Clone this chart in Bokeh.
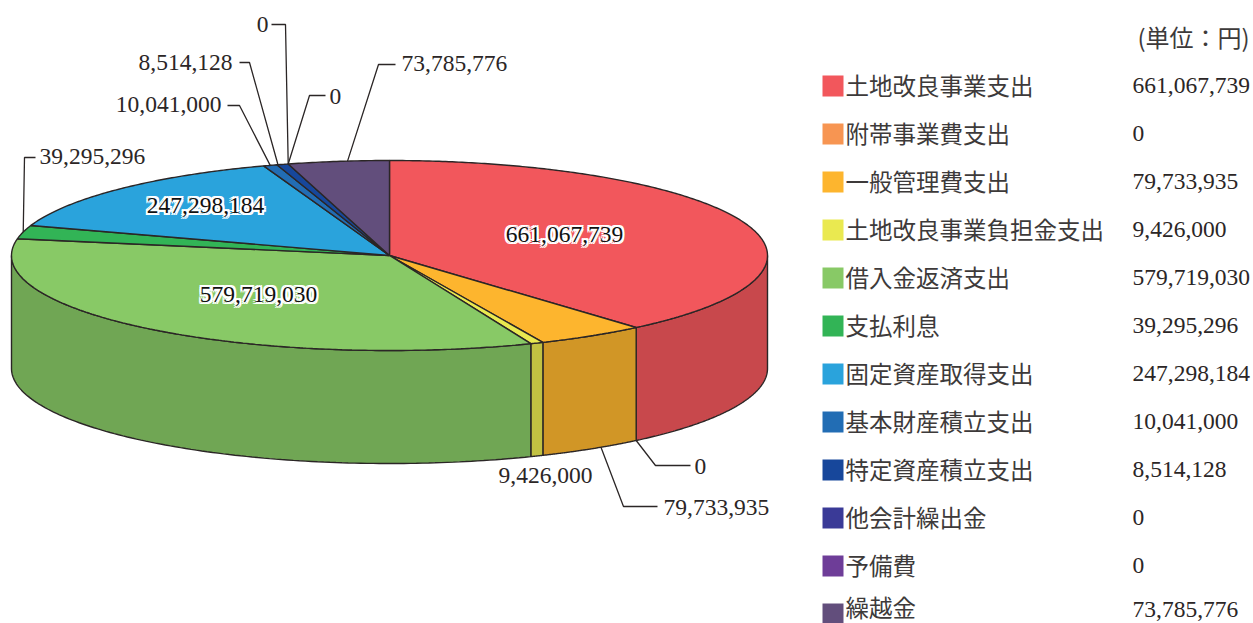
import numpy as np
from bokeh.plotting import figure
from bokeh.models import Range1d
from bokeh.core.properties import value
from bokeh.embed import file_html
from bokeh.resources import INLINE

# ---- data ----
categories = ["土地改良事業支出", "附帯事業費支出", "一般管理費支出", "土地改良事業負担金支出",
              "借入金返済支出", "支払利息", "固定資産取得支出", "基本財産積立支出",
              "特定資産積立支出", "他会計繰出金", "予備費", "繰越金"]
amounts = [661067739, 0, 79733935, 9426000, 579719030, 39295296,
           247298184, 10041000, 8514128, 0, 0, 73785776]
colors = ["#F2575C", "#F79552", "#FDB52E", "#EAE950", "#88C966", "#32B456",
          "#2AA3DC", "#226DB4", "#17479B", "#3A3A97", "#6E3D98", "#624E7C"]
unit_label = "(単位：円)"

# ---- layout ----
CX, CY, RX, RY, DEPTH = 389.0, 255.0, 378.0, 95.0, 113.0
INK = "#2b2626"
SOFT = "#3d3a3a"
NUM_FONT = value("Liberation Serif")
JP_FONT = value("Noto Sans CJK JP")
SIZE = "23.5px"

p = figure(width=1253, height=623, output_backend="svg", toolbar_location=None,
           x_range=Range1d(0, 1253), y_range=Range1d(623, 0),
           min_border=0, outline_line_color=None, border_fill_color="white")
p.axis.visible = False
p.grid.visible = False

totals = np.cumsum([0] + amounts)
angles = 360.0 * totals / totals[-1]


def pt(deg, drop=0.0):
    r = np.radians(deg)
    return CX + RX * np.sin(r), CY - RY * np.cos(r) + drop


def shade(col, f=0.83):
    return "#%02X%02X%02X" % tuple(int(int(col[i:i + 2], 16) * f) for i in (1, 3, 5))


# side wall of the disc (front half only)
for a0, a1, col in zip(angles[:-1], angles[1:], colors):
    lo, hi = max(a0, 90.0), min(a1, 270.0)
    if hi <= lo:
        continue
    t = np.linspace(lo, hi, 120)
    xs, ys = pt(t)
    xb, yb = pt(t[::-1], DEPTH)
    p.patch(np.r_[xs, xb], np.r_[ys, yb], fill_color=shade(col), line_color=INK, line_width=1.4)

# top face
for a0, a1, col in zip(angles[:-1], angles[1:], colors):
    if a1 <= a0:
        continue
    t = np.linspace(a0, a1, max(int(a1 - a0) * 2, 8))
    xs, ys = pt(t)
    p.patch(np.r_[CX, xs], np.r_[CY, ys], fill_color=col, line_color=INK, line_width=1.4)

# leader lines: (slice, fraction across slice, drop, elbow, end, text x, text y, align)
leaders = [
    (11, 0.59, 0, (378, 64), (395, 64), 401, 63, "left"),
    (10, 0.00, 0, (309, 95), (325, 95), 329, 96, "left"),
    (9, 0.00, 0, (285, 24), (271, 24), 268, 24, "right"),
    (8, 0.10, 0, (249, 62), (239, 62), 232, 62, "right"),
    (7, 0.50, 0, (239, 105), (227, 105), 221, 104, "right"),
    (5, 0.50, 0, (24, 157), (35, 157), 39, 156, "left"),
    (1, 0.00, DEPTH, (655, 465), (690, 465), 694, 466, "left"),
    (2, 0.40, DEPTH, (623, 506), (657, 506), 663, 507, "left"),
]
for i, frac, drop, elbow, end, tx, ty, al in leaders:
    a = angles[i] + frac * (angles[i + 1] - angles[i])
    x0, y0 = pt(a, drop)
    p.line([x0, elbow[0], end[0]], [y0, elbow[1], end[1]], line_color=INK, line_width=1.3)
    p.text([tx], [ty], text=[f"{amounts[i]:,}"], text_font=NUM_FONT, text_font_size=SIZE,
           text_color=INK, text_align=al, text_baseline="middle")

p.text([545], [475], text=[f"{amounts[3]:,}"], text_font=NUM_FONT, text_font_size=SIZE,
       text_color=INK, text_align="center", text_baseline="middle")

# halo labels on the pie: white copies around the dark figures
halo = [(dx, dy) for dx in (-2, 0, 2) for dy in (-2, 0, 2) if dx or dy]
for i, tx, ty in [(0, 564, 234), (4, 258, 294), (6, 205, 205)]:
    label = f"{amounts[i]:,}"
    for dx, dy in halo:
        p.text([tx], [ty], text=[label], x_offset=dx, y_offset=dy, text_font=NUM_FONT,
               text_font_size=SIZE, text_color="white", text_align="center",
               text_baseline="middle")
    p.text([tx], [ty], text=[label], text_font=NUM_FONT, text_font_size=SIZE,
           text_color="#111111", text_align="center", text_baseline="middle")

# legend table
p.text([1137], [36], text=[unit_label], text_font=JP_FONT, text_font_size="24px",
       text_color=SOFT, text_align="left", text_baseline="middle")
for row, (name, amt, col) in enumerate(zip(categories, amounts, colors)):
    y = 86 + 48 * row
    p.quad(left=[822], right=[843], top=[y - 11], bottom=[y + 10], fill_color=col, line_color=None)
    # the last row sits against the page edge, so its texts stay just inside it
    p.text([845], [min(y - 2, 606)], text=[name], text_font=JP_FONT, text_font_size=SIZE,
           text_color=SOFT, text_align="left", text_baseline="middle")
    p.text([1132], [min(y - 1, 609)], text=[f"{amt:,}"], text_font=NUM_FONT, text_font_size=SIZE,
           text_color=INK, text_align="left", text_baseline="middle")

open("out.html", "w").write(file_html(p, INLINE))
